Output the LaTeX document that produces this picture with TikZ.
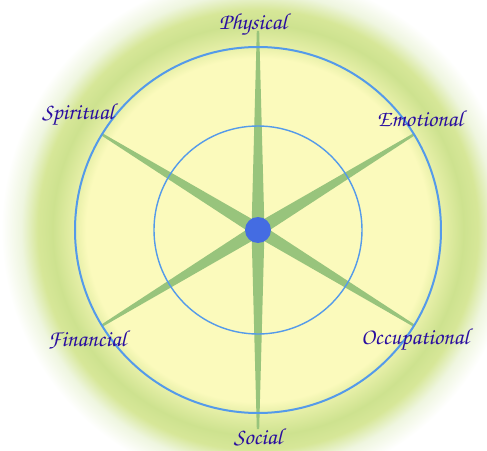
\documentclass[tikz,border=0pt]{standalone}
\usepackage[T1]{fontenc}
\usepackage{xcolor}
\usetikzlibrary{positioning,calc}

\definecolor{paleyel}{RGB}{251,250,188}
\definecolor{halogrn}{RGB}{190,218,128}
\definecolor{ringblue}{RGB}{84,154,234}
\definecolor{spokegrn}{RGB}{152,196,124}
\definecolor{hubblue}{RGB}{68,108,226}
\definecolor{areatext}{RGB}{42,14,160}

% stops: 25bp is the rim of the shaded circle (r = 262)
\pgfdeclareradialshading{halo}{\pgfpoint{0bp}{0bp}}{%
  color(0bp)=(paleyel); color(16.4bp)=(paleyel);
  color(17.6bp)=(halogrn!35!paleyel); color(19.6bp)=(halogrn!75!paleyel);
  color(21bp)=(halogrn!60!paleyel); color(22.6bp)=(halogrn!25!white);
  color(24.5bp)=(white); color(50bp)=(white)}

\tikzset{
  area/.style={font=\fontsize{23}{25}\usefont{T1}{pzc}{mb}{it}, text=areatext, inner sep=1pt},
  ring/.style={draw=ringblue, line width=2pt},
  spoke/.style={fill=spokegrn},
}

\begin{document}
\begin{tikzpicture}[x=1pt,y=1pt]
    \useasboundingbox (-258,-220) rectangle (229,230);
    % ---- the glow behind the wheel
    \shade[shading=halo] (0,0) circle (262);
    % ---- six spokes, wide at the hub
    \foreach \a/\l in {90/199, 31.5/183, 148.5/183}
      { \fill[spoke, rotate=\a] (\l,1.2) -- (0,6.5) -- (-\l,1.2) -- (-\l,-1.2) -- (0,-6.5) -- (\l,-1.2) -- cycle; }
    % ---- two rings and the hub
    \draw[ring] (0,0) circle (183);
    \draw[ring, line width=1.4pt] (0,0) circle (104);
    \node[circle, fill=hubblue, minimum size=26pt, inner sep=0pt] (hub) at (0,0) {};
    % ---- the six areas
    \node[area] (phys) at (-5, 205) {Physical};
    \node[area] (spir) at (-180, 115) {Spiritual};
    \node[area] (emot) at (162, 112) {Emotional};
    \node[area] (fina) at (-171, -110) {Financial};
    \node[area] (occu) at (157, -110) {Occupational};
    \node[area] (soci) at (0, -207) {Social};
\end{tikzpicture}
\end{document}
